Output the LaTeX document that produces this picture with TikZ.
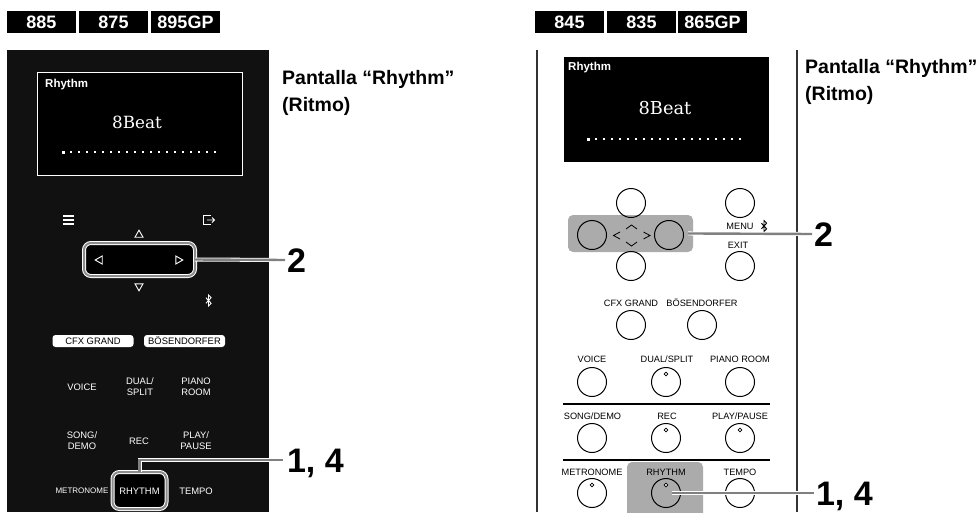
\documentclass[tikz,border=0pt]{standalone}
\usepackage{fontspec}
\setsansfont{Liberation Sans}
\newfontfamily\scrfont{DejaVu Serif}
\usetikzlibrary{positioning}
\definecolor{panelblk}{HTML}{111111}
\definecolor{hlgray}{HTML}{ABABAB}
\tikzset{
  badge/.style = {fill=black, text=white, inner sep=0pt, outer sep=0pt,
    minimum width=69pt, minimum height=22pt,
    font=\sffamily\bfseries\fontsize{18}{20}\selectfont},
  scrtitle/.style = {text=white, inner sep=0pt, anchor=west,
    font=\sffamily\bfseries\fontsize{11.5}{13}\selectfont},
  scrvalue/.style = {text=white, inner sep=0pt,
    font=\scrfont\fontsize{16.8}{20}\selectfont},
  scrlabel/.style = {anchor=north west, align=left, inner sep=0pt,
    font=\sffamily\bfseries\fontsize{19.5}{27}\selectfont},
  stepnum/.style = {anchor=west, inner sep=0pt, outer sep=0pt,
    text height=25pt, text depth=0pt,
    font=\sffamily\bfseries\fontsize{34}{36}\selectfont},
  keylbl/.style = {text=black, inner sep=0pt, align=center,
    font=\sffamily\fontsize{9.2}{11}\selectfont},
  panlbl/.style = {keylbl, text=white, font=\sffamily\fontsize{9.4}{11}\selectfont},
  pill/.style = {fill=white, text=black, rounded corners=3pt, inner sep=0pt,
    minimum width=81pt, minimum height=12pt,
    font=\sffamily\fontsize{9.4}{11}\selectfont},
  keybtn/.style = {circle, draw=black, line width=1pt, inner sep=0pt,
    minimum size=29pt},
  ledpt/.style = {circle, draw=black, fill=white, line width=0.8pt, inner sep=0pt,
    minimum size=3.8pt},
  hlbox/.style = {fill=hlgray, rounded corners=5pt, inner sep=0pt, outer sep=0pt},
  hlring/.style = {draw=white, double=black!45, double distance=2pt,
    line width=1pt, rounded corners=7pt, fill=black, inner sep=0pt, outer sep=0pt},
  callout/.style = {draw=white, double=black!50, double distance=2.4pt,
    line width=0.8pt},
  navmark/.style = {draw=white, line width=0.9pt, line join=miter},
  sepline/.style = {draw=black, line width=1.5pt},
  edgeline/.style = {draw=black!80, line width=1.1pt},
  chevron/.style = {draw=black, line width=0.8pt}
}
\newcommand{\navTri}[3]{\draw [navmark, shift={(#1,#2)}, rotate=#3] (-4,3.2) -- (0,-3.8) -- (4,3.2) -- cycle;}
\newcommand{\btMark}[3]{\draw [#3, line width=0.9pt, shift={(#1,#2)}] (-2.6,-2.8) -- (2.6,2.8) -- (0,5.4) -- (0,-5.4) -- (2.6,-2.8) -- (-2.6,2.8);}
\newcommand{\scrDots}[2]{\fill [white] ({#1-1.5},{#2-1.5}) rectangle ++(3,3);
  \foreach \i in {1,...,19} \fill [white] ({#1+8*\i-0.7},{#2-0.7}) rectangle ++(1.4,1.4);}

\begin{document}
\begin{tikzpicture}[x=1pt, y=-1pt]
  \path [use as bounding box, fill=white] (0,0) rectangle (980,512);
  \begin{scope}
    \node [badge] (la) at (41.5,22) {885};
    \node [badge, right=3pt of la] (lb) {875};
    \node [badge, right=3pt of lb] (lc) {895GP};
    \fill [panelblk] (7,50) rectangle (269,512);
    \draw [white, line width=0.9pt, fill=black] (37,72) rectangle (242,175);
    \node [scrtitle] (ltitle) at (45,85) {Rhythm};
    \node [scrvalue] (lvalue) at (137,122) {8Beat};
    \scrDots{63}{152}
    \foreach \y in {216,220,224} \draw [white, line width=1.5pt] (63,\y) -- (74,\y);
    \draw [white, line width=0.9pt] (211,215.5) -- (203.5,215.5) -- (203.5,224.5) -- (211,224.5);
    \draw [white, line width=0.9pt] (207,220) -- (214.5,220) (212,217.5) -- (214.5,220) -- (212,222.5);
    \node [hlring, minimum width=111pt, minimum height=33pt] (navring) at (139.5,259.5) {};
    \navTri{139}{234}{0}
    \navTri{139}{287}{180}
    \navTri{99}{260}{90}
    \navTri{179}{260}{-90}
    \btMark{208.5}{300.5}{white}
    \node [pill] (lcfx) at (93,341) {CFX GRAND};
    \node [pill] (lbos) at (184.5,341) {BÖSENDORFER};
    \foreach \n/\x/\y/\t in {lvoice/82/387/VOICE, ldual/140/387/{DUAL/\\SPLIT}, lpiano/196/387/{PIANO\\ROOM},
      lsong/82/441/{SONG/\\DEMO}, lrec/139/441/REC, lplay/196/441/{PLAY/\\PAUSE}, ltempo/196/491/TEMPO}
      \node [panlbl] (\n) at (\x,\y) {\t};
    \node [panlbl, font=\sffamily\fontsize{8}{10}\selectfont] (lmetro) at (82,491) {METRONOME};
    \node [hlring, minimum width=54pt, minimum height=37pt] (lrhyring) at (139.5,490.5) {};
    \node [panlbl] (lrhy) at (139.5,491) {RHYTHM};
    \node [stepnum] (lstepb) at (287,260) {2};
    \node [stepnum] (lstepa) at (287,460) {1, 4};
    \draw [callout, shorten >=2pt] (navring.east) -- (lstepb.west);
    \draw [callout, shorten >=4pt] (lrhyring.north) |- (lstepa.west);
    \node [scrlabel] (lscr) at (282,70) {Pantalla “Rhythm”\\(Ritmo)};
  \end{scope}
  \begin{scope}
    \node [badge] (ra) at (569.5,22) {845};
    \node [badge, right=3pt of ra] (rb) {835};
    \node [badge, right=2pt of rb] (rc) {865GP};
    \draw [edgeline] (537,50) -- (537,512);
    \draw [edgeline] (797,50) -- (797,512);
    \fill [black] (564,57) rectangle (769,162);
    \node [scrtitle] (rtitle) at (568,68) {Rhythm};
    \node [scrvalue, font=\scrfont\fontsize{17.8}{20}\selectfont] (rvalue) at (665,108) {8Beat};
    \scrDots{588}{139}
    \node [hlbox, minimum width=125pt, minimum height=37pt] (dirbox) at (630.5,233.5) {};
    \node [hlbox, minimum width=76pt, minimum height=56pt] (rhybox) at (665,490) {};
    \foreach \n/\x/\y in {kup/631/203, kmenu/740/203, kleft/592/235, kright/669/235, kdown/631/266,
      kexit/740/266, kcfx/631/325, kbos/702/325, kvoice/592/382, kdual/666/382, kpiano/740/382,
      ksong/592/438, krec/666/438, kplay/740/438, kmetro/592/493, krhy/666/493, ktempo/740/493}
      \node [keybtn] (\n) at (\x,\y) {};
    \foreach \n in {kdual, krec, kplay, kmetro, krhy}
      \node [ledpt] (\n led) at ([yshift=8pt]\n.center) {};
    \draw [chevron] (620,232) -- (613.5,235.5) -- (620,239);
    \draw [chevron] (643.5,232) -- (650,235.5) -- (643.5,239);
    \draw [chevron] (626,229) -- (631.5,225) -- (637,229);
    \draw [chevron] (626,242) -- (631.5,246) -- (637,242);
    \foreach \n/\x/\y/\t in {rmenu/740/226/MENU, rexit/738/245/EXIT, rcfx/631/303/CFX GRAND, rbos/702/303/BÖSENDORFER,
      rvoice/592/359/VOICE, rdual/667/359/{DUAL/SPLIT}, rpiano/740/359/PIANO ROOM,
      rsong/592.5/416/{SONG/DEMO}, rrec/667/416/REC, rplay/740/416/{PLAY/PAUSE},
      rmetro/592/472/METRONOME, rrhy/666/472/RHYTHM, rtempo/740/472/TEMPO}
      \node [keylbl] (\n) at (\x,\y) {\t};
    \btMark{764}{226}{black}
    \draw [sepline] (563,404) -- (770,404);
    \draw [sepline] (563,460) -- (770,460);
    \node [stepnum] (rstepb) at (814,234) {2};
    \node [stepnum] (rstepa) at (816,493) {1, 4};
    \draw [callout, shorten <=-5pt, shorten >=2pt] (dirbox.east) -- (rstepb.west);
    \draw [callout, shorten <=6pt, shorten >=2pt] (krhy.center) -- (rstepa.west);
    \node [scrlabel] (rscr) at (805,59.5) {Pantalla “Rhythm”\\(Ritmo)};
  \end{scope}
\end{tikzpicture}
\end{document}
